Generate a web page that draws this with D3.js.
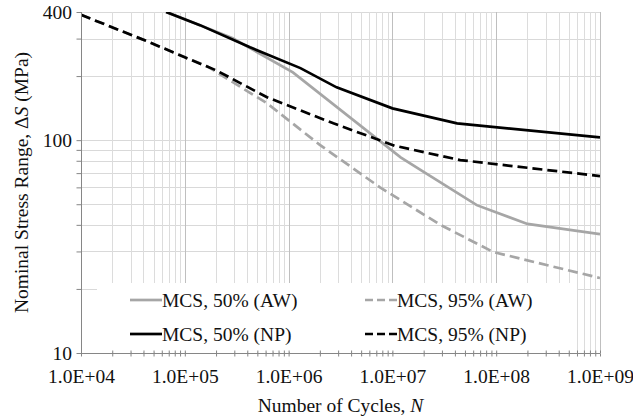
<!DOCTYPE html>
<html>
<head>
<meta charset="utf-8">
<script src="https://cdn.jsdelivr.net/npm/d3@7"></script>
<style>
  body { margin: 0; background: #fff; }
  text { font-family: "Liberation Serif", "Times New Roman", serif; fill: #111; }
</style>
</head>
<body>
<div id="chart"></div>
<script>
// values: [cycles N, stress range MPa]
const seriesNames = ["MCS, 50% (AW)", "MCS, 95% (AW)", "MCS, 50% (NP)", "MCS, 95% (NP)"];
const aw50 = [[6.6e4, 400], [1.4e5, 347], [2.9e5, 301], [1.1e6, 208], [1.2e7, 83], [2e7, 71], [6.5e7, 49.5], [2e8, 40.4], [1e9, 36.2]];
const aw95 = [[1e4, 388], [4.6e4, 288], [1e5, 245], [1.6e5, 224], [6.2e5, 149], [2e6, 95], [7.6e6, 60], [2.9e7, 40], [9.4e7, 29.8], [1e9, 22.5]];
const np50 = [[6.6e4, 400], [1.4e5, 347], [4.25e5, 273], [1.3e6, 218], [2.9e6, 177], [1e7, 141], [4.2e7, 120], [1e9, 103]];
const np95 = [[1e4, 388], [4.6e4, 288], [1e5, 245], [2e5, 213], [6.2e5, 159], [2.7e6, 120], [1.06e7, 94], [4.5e7, 80.6], [1e9, 67.8]];

const xTickValues = [1e4, 1e5, 1e6, 1e7, 1e8, 1e9];
const xTickLabels = ["1.0E+04", "1.0E+05", "1.0E+06", "1.0E+07", "1.0E+08", "1.0E+09"];
const yTickValues = [10, 100, 400];
const yTickLabels = ["10", "100", "400"];

let width = 633;
let height = 417;
let plotLeft = 81, plotRight = 600, plotTop = 12, plotBottom = 353;

let xScale = d3.scaleLog().domain([1e4, 1e9]).range([plotLeft, plotRight]);
let yScale = d3.scaleLog().domain([10, 400]).range([plotBottom, plotTop]);

// minor positions for grid and ticks
let xMinor = [];
for (let e = 4; e < 9; e++) {
    for (let m = 1; m < 10; m++) xMinor.push(m * Math.pow(10, e));
}
xMinor.push(1e9);
let yMinor = [10, 20, 30, 40, 50, 60, 70, 80, 90, 100, 200, 300, 400];

let svg = d3.select("#chart")
    .append("svg")
    .attr("width", width)
    .attr("height", height);

//grid
svg.append("g")
    .selectAll("line")
    .data(yMinor.slice(1))
    .join("line")
    .attr("x1", plotLeft)
    .attr("x2", plotRight)
    .attr("y1", d => Math.round(yScale(d)) + 0.5)
    .attr("y2", d => Math.round(yScale(d)) + 0.5)
    .attr("stroke", "#d9d9d9")
    .attr("stroke-width", 1);

svg.append("g")
    .selectAll("line")
    .data(xMinor.slice(1))
    .join("line")
    .attr("x1", d => Math.round(xScale(d)) + 0.5)
    .attr("x2", d => Math.round(xScale(d)) + 0.5)
    .attr("y1", plotTop)
    .attr("y2", plotBottom)
    .attr("stroke", d => xTickValues.includes(d) ? "#bfbfbf" : "#dcdcdc")
    .attr("stroke-width", 1);

//legend box hides the grid underneath
let legendBox = { x: 97, y: 283, w: 480, h: 69 };
svg.append("rect")
    .attr("x", legendBox.x)
    .attr("y", legendBox.y)
    .attr("width", legendBox.w)
    .attr("height", legendBox.h)
    .attr("fill", "#fff");

//lines
let styles = [
    { data: aw50, color: "#a6a6a6", dash: null },
    { data: aw95, color: "#a6a6a6", dash: "10,5" },
    { data: np50, color: "#000", dash: null },
    { data: np95, color: "#000", dash: "10,5" }
];

svg.append("clipPath")
    .attr("id", "plot-clip")
    .append("rect")
    .attr("x", plotLeft)
    .attr("y", plotTop)
    .attr("width", plotRight - plotLeft)
    .attr("height", plotBottom - plotTop);

let line = d3.line()
    .x(d => xScale(d[0]))
    .y(d => yScale(d[1]));

svg.append("g")
    .attr("clip-path", "url(#plot-clip)")
    .selectAll("path")
    .data(styles)
    .join("path")
    .attr("d", d => line(d.data))
    .attr("fill", "none")
    .attr("stroke", d => d.color)
    .attr("stroke-width", 2.7)
    .attr("stroke-dasharray", d => d.dash);

//x axis
svg.append("g")
    .attr("class", "x-ticks")
    .attr("transform", "translate(0," + (plotBottom + 0.5) + ")")
    .call(d3.axisBottom(xScale).tickValues(xMinor).tickSize(3).tickFormat(""))
    .call(g => g.select(".domain").remove());
svg.append("g")
    .attr("class", "x-ticks")
    .attr("transform", "translate(0," + (plotBottom + 0.5) + ")")
    .call(d3.axisTop(xScale).tickValues(xMinor).tickSize(3).tickFormat(""))
    .call(g => g.select(".domain").remove());
svg.selectAll(".x-ticks line").attr("stroke", "#868686");

svg.append("g")
    .attr("transform", "translate(0," + plotBottom + ")")
    .call(d3.axisBottom(xScale).tickValues(xTickValues).tickSize(0).tickPadding(16)
        .tickFormat((d, i) => xTickLabels[i]))
    .call(g => g.select(".domain").remove())
    .selectAll("text")
    .style("font-size", "19.5px")
    .style("font-family", "Liberation Serif")
    .attr("fill", "#111");

svg.append("line")
    .attr("x1", plotLeft)
    .attr("x2", plotRight)
    .attr("y1", plotBottom + 0.5)
    .attr("y2", plotBottom + 0.5)
    .attr("stroke", "#868686");

//y axis
svg.append("g")
    .attr("transform", "translate(" + (plotLeft + 0.5) + ",0)")
    .call(d3.axisLeft(yScale).tickValues(yMinor).tickSize(5).tickFormat(""))
    .call(g => g.select(".domain").remove())
    .selectAll("line")
    .attr("stroke", "#868686");

svg.append("g")
    .attr("transform", "translate(" + (plotLeft - 9) + ",0)")
    .call(d3.axisLeft(yScale).tickValues(yTickValues).tickSize(0).tickPadding(0)
        .tickFormat((d, i) => yTickLabels[i]))
    .call(g => g.select(".domain").remove())
    .selectAll("text")
    .style("font-size", "19.5px")
    .style("font-family", "Liberation Serif")
    .attr("fill", "#111");

svg.append("line")
    .attr("x1", plotLeft + 0.5)
    .attr("x2", plotLeft + 0.5)
    .attr("y1", plotTop)
    .attr("y2", plotBottom)
    .attr("stroke", "#868686");

//legend
let legendPos = [[130, 300], [365, 300], [130, 334], [365, 334]];
let items = svg.append("g")
    .selectAll("g")
    .data(styles)
    .join("g")
    .attr("transform", (d, i) => "translate(" + legendPos[i][0] + "," + legendPos[i][1] + ")");
items.append("line")
    .attr("x1", 0)
    .attr("x2", 32)
    .attr("stroke", d => d.color)
    .attr("stroke-width", 2.7)
    .attr("stroke-dasharray", d => d.dash ? "8,4" : null);
items.append("text")
    .attr("x", 32)
    .attr("y", 7)
    .attr("font-size", "19.5px")
    .text((d, i) => seriesNames[i]);

// Y Label
let yLabel = svg.append("text")
    .attr("transform", "translate(28," + ((plotTop + plotBottom) / 2) + ") rotate(-90)")
    .attr("font-size", "19.5px")
    .style("text-anchor", "middle");
yLabel.append("tspan").text("Nominal Stress Range, Δ");
yLabel.append("tspan").attr("font-style", "italic").text("S");
yLabel.append("tspan").text(" (MPa)");

// X Label
let xLabel = svg.append("text")
    .attr("x", (plotLeft + plotRight) / 2)
    .attr("y", 412)
    .attr("font-size", "19.5px")
    .style("text-anchor", "middle");
xLabel.append("tspan").text("Number of Cycles, ");
xLabel.append("tspan").attr("font-style", "italic").text("N");
</script>
</body>
</html>
